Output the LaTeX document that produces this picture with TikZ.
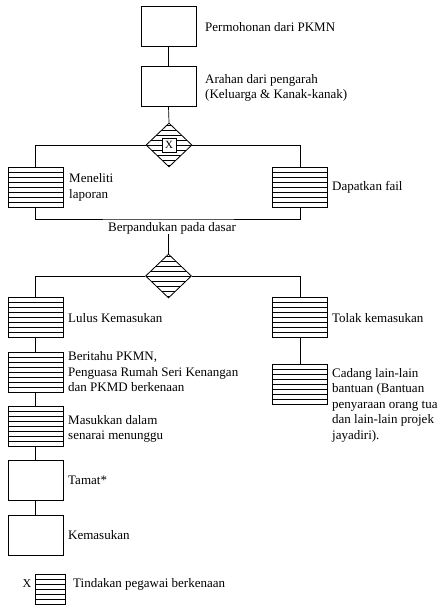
\documentclass[tikz,border=0pt]{standalone}
\usepackage{fontspec}
\setmainfont{Liberation Serif}
\usetikzlibrary{shapes.geometric}
\begin{document}
\begin{tikzpicture}[x=1pt,y=-1pt,
  every node/.style={font=\fontsize{13}{15.5}\selectfont},
  conn/.style={line width=0.7pt},
  plainbox/.style={draw, line width=0.8pt, minimum width=55pt, minimum height=40pt, inner sep=0pt},
  hatchbox/.style={plainbox, path picture={\foreach \k in {-15,-10,...,15}{\draw[line width=0.7pt] ([yshift=\k pt]path picture bounding box.west) -- ([yshift=\k pt]path picture bounding box.east);}}},
  hatchdiamond/.style={diamond, draw, line width=0.8pt, minimum width=46pt, minimum height=44pt, inner sep=0pt, aspect=1,
     path picture={\foreach \k in {-20,-15,...,20}{\draw[line width=0.7pt] ([yshift=\k pt]path picture bounding box.west) -- ([yshift=\k pt]path picture bounding box.east);}}},
  lbl/.style={anchor=west, align=left, inner sep=0pt},
  xbox/.style={draw, fill=white, line width=0.7pt, minimum width=14pt, minimum height=14pt, inner sep=0pt, font=\fontsize{11}{12}\selectfont}
]
\useasboundingbox[fill=white] (0,0) rectangle (439,605);
% nodes
\node[plainbox] (b1) at (168.5,26.5) {};
\node[plainbox] (b2) at (168.5,86.5) {};
\node[hatchdiamond] (d1) at (169,145) {};
\node[xbox] (xx) at (169,145) {X};
\node[hatchbox] (m) at (35.5,187) {};
\node[hatchbox] (r) at (300,187) {};
\coordinate (j) at (169,219);
\node[inner sep=0pt] (bp) at (172,228) {Berpandukan pada dasar};
\node[hatchdiamond] (d2) at (168.5,276) {};
\node[hatchbox] (lulus) at (35.5,317) {};
\node[hatchbox] (tolak) at (300,317) {};
\node[hatchbox] (berit) at (35.5,372) {};
\node[hatchbox] (cadang) at (300,384.5) {};
\node[hatchbox] (masuk) at (35.5,426.5) {};
\node[plainbox] (tamat) at (35.5,480.5) {};
\node[plainbox] (kem) at (35.5,535) {};
% labels
\node[lbl] (t1) at (205,27) {Permohonan dari PKMN};
\node[lbl] (t2) at (205,88) {Arahan dari pengarah\\(Keluarga \& Kanak-kanak)};
\node[lbl] (t3) at (69,187.5) {Meneliti\\laporan};
\node[lbl] (t4) at (332,187) {Dapatkan fail};
\node[lbl] (t5) at (68,318) {Lulus Kemasukan};
\node[lbl] (t6) at (332,318) {Tolak kemasukan};
\node[lbl] (t7) at (68,372) {Beritahu PKMN,\\Penguasa Rumah Seri Kenangan\\dan PKMD berkenaan};
\node[lbl] (t8) at (332,405) {Cadang lain-lain\\bantuan (Bantuan\\penyaraan orang tua\\dan lain-lain projek\\jayadiri).};
\node[lbl] (t9) at (68,429) {Masukkan dalam\\senarai menunggu};
\node[lbl] (t10) at (68,480) {Tamat*};
\node[lbl] (t11) at (68,535) {Kemasukan};
% legend
\node[inner sep=0pt, font=\fontsize{12}{13}\selectfont] (lx) at (27,584) {X};
\node[hatchbox, minimum width=30pt, minimum height=30pt] (lbox) at (50,589) {};
\node[lbl] (lt) at (73,584) {Tindakan pegawai berkenaan};
% connectors
\draw[conn] (b1.south) -- (b2.north);
\draw[conn] (b2.south) -- (d1.north);
\draw[conn] (d1.west) -| (m.north);
\draw[conn] (d1.east) -| (r.north);
\draw[conn] (m.south) |- (j) -| (r.south);
\draw[conn] (d2.north) -- (d2.north |- bp.south);
\draw[conn] (d2.west) -| (lulus.north);
\draw[conn] (d2.east) -| (tolak.north);
\draw[conn] (lulus.south) -- (berit.north);
\draw[conn] (berit.south) -- (masuk.north);
\draw[conn] (masuk.south) -- (tamat.north);
\draw[conn] (tamat.south) -- (kem.north);
\draw[conn] (tolak.south) -- (cadang.north);
\end{tikzpicture}
\end{document}
